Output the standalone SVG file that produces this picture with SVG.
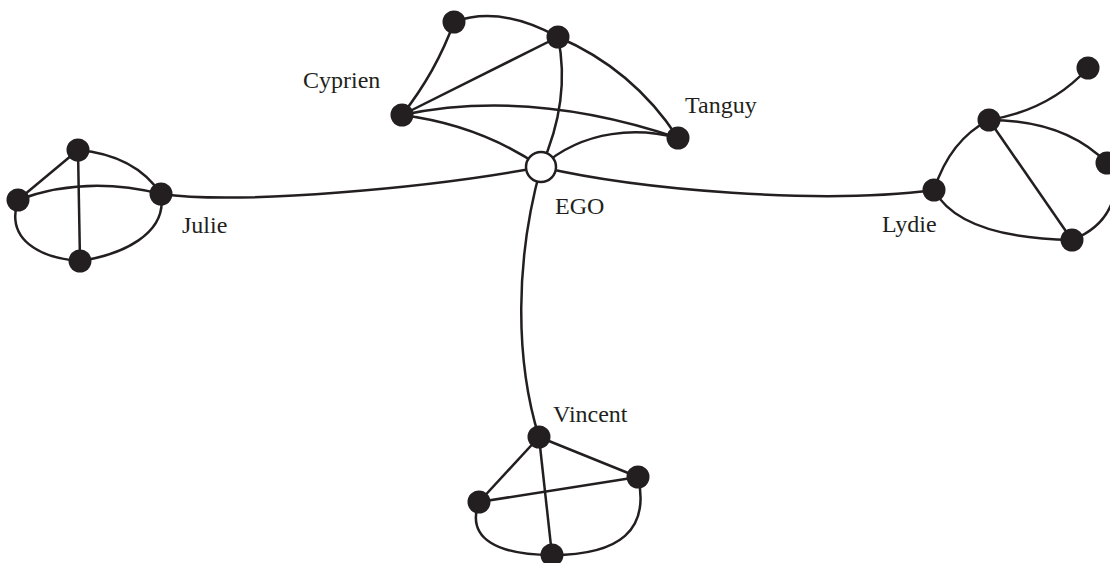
<svg xmlns="http://www.w3.org/2000/svg" width="1110" height="563" viewBox="0 0 1110 563">
<style>
.e{fill:none;stroke:#231f20;stroke-width:2.5}
.n{fill:#231f20}
.ego{fill:#fff;stroke:#231f20;stroke-width:2.5}
.t{font-family:"Liberation Serif","Times New Roman",serif;font-size:24px;fill:#231f20}
</style>
<rect width="1110" height="563" fill="#fff"/>
<g id="connectors">
<path class="e" d="M454,22 Q500,5 558,37"/>
<path class="e" d="M454,22 Q436,72 402,115"/>
<path class="e" d="M402,115 L558,37"/>
<path class="e" d="M402,115 Q530,88 678,138"/>
<path class="e" d="M402,115 Q480,125 541,167"/>
<path class="e" d="M558,37 Q571,100 541,167"/>
<path class="e" d="M558,37 Q633,69 678,138"/>
<path class="e" d="M678,138 C640,128 585,128 541,167"/>
<path class="e" d="M161,194 C240,205 430,188 541,167"/>
<path class="e" d="M541,167 C640,190 820,205 934,190"/>
<path class="e" d="M541,167 C515,260 515,360 539,437"/>
<path class="e" d="M78,150 L18,200"/>
<path class="e" d="M78,150 L80,261"/>
<path class="e" d="M78,150 Q135,155 161,194"/>
<path class="e" d="M18,200 Q85,175 161,194"/>
<path class="e" d="M18,200 C5,240 40,258 80,261"/>
<path class="e" d="M161,194 C168,235 120,255 80,261"/>
<path class="e" d="M989,120 Q1050,110 1088,68"/>
<path class="e" d="M989,120 Q1065,120 1107,163"/>
<path class="e" d="M989,120 L1072,240"/>
<path class="e" d="M934,190 Q950,140 989,120"/>
<path class="e" d="M934,190 Q960,238 1072,240"/>
<path class="e" d="M1107,163 C1125,190 1110,225 1072,240"/>
<path class="e" d="M539,437 L638,477"/>
<path class="e" d="M539,437 L479,502"/>
<path class="e" d="M539,437 L552,555"/>
<path class="e" d="M479,502 L638,477"/>
<path class="e" d="M479,502 C465,540 500,555 552,555"/>
<path class="e" d="M638,477 C650,530 620,555 552,555"/>
</g>
<g id="ego"><circle class="ego" cx="541" cy="167" r="15"/><text class="t" x="555" y="214">EGO</text></g>
<g id="top1"><circle class="n" cx="454" cy="22" r="11.5"/></g>
<g id="top2"><circle class="n" cx="558" cy="37" r="11.5"/></g>
<g id="cyprien"><circle class="n" cx="402" cy="115" r="11.5"/><text class="t" x="303" y="88">Cyprien</text></g>
<g id="tanguy"><circle class="n" cx="678" cy="138" r="11.5"/><text class="t" x="685" y="113">Tanguy</text></g>
<g id="julie"><circle class="n" cx="161" cy="194" r="11.5"/><text class="t" x="182" y="233">Julie</text></g>
<g id="j1"><circle class="n" cx="78" cy="150" r="11.5"/></g>
<g id="j2"><circle class="n" cx="18" cy="200" r="11.5"/></g>
<g id="j3"><circle class="n" cx="80" cy="261" r="11.5"/></g>
<g id="lydie"><circle class="n" cx="934" cy="190" r="11.5"/><text class="t" x="882" y="232">Lydie</text></g>
<g id="r1"><circle class="n" cx="1088" cy="68" r="11.5"/></g>
<g id="r2"><circle class="n" cx="989" cy="120" r="11.5"/></g>
<g id="r3"><circle class="n" cx="1107" cy="163" r="11.5"/></g>
<g id="r4"><circle class="n" cx="1072" cy="240" r="11.5"/></g>
<g id="vincent"><circle class="n" cx="539" cy="437" r="11.5"/><text class="t" x="553" y="422">Vincent</text></g>
<g id="v1"><circle class="n" cx="638" cy="477" r="11.5"/></g>
<g id="v2"><circle class="n" cx="479" cy="502" r="11.5"/></g>
<g id="v3"><circle class="n" cx="552" cy="555" r="11.5"/></g>
</svg>
